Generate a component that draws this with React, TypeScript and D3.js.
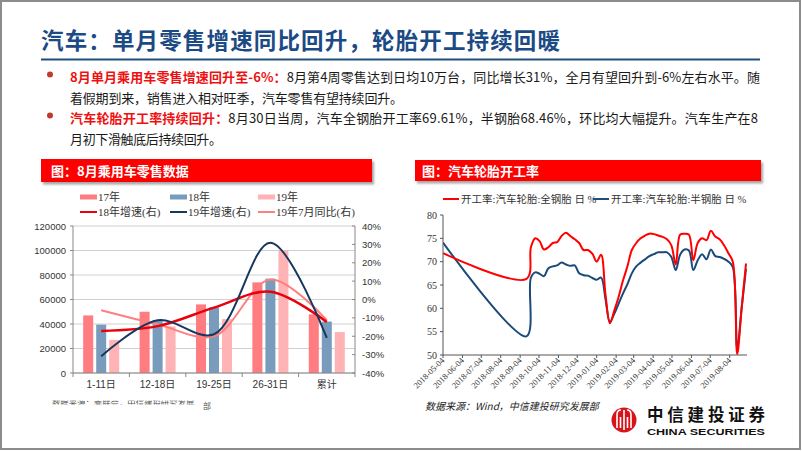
import React from 'react';
import * as d3 from 'd3';

// ---------- data: left chart (8月乘用车零售数据) ----------
const categories = ['1-11日', '12-18日', '19-25日', '26-31日', '累计'];
const seriesNames = ['17年', '18年', '19年'];
const sales17 = [47000, 50000, 56000, 74000, 47900];
const sales18 = [39500, 43000, 53500, 77000, 42000];
const sales19 = [27000, 38000, 44000, 100000, 33500];
const growth18 = [-17.1, -14.5, -4.4, 4.2, -12.2];
const growth19 = [-30.9, -11.3, -18.9, 30.9, -20.9];
const yoyJul19 = [-5.8, -13.5, -20.0, 10.9, -11.3];
const leftTicks = [0, 20000, 40000, 60000, 80000, 100000, 120000];
const rightTicks = [-40, -30, -20, -10, 0, 10, 20, 30, 40];

// ---------- data: right chart (汽车轮胎开工率) ----------
const tireDates = [
  '2018-05-04', '2018-09-14', '2018-09-21', '2018-09-28', '2018-10-05', '2018-10-12', '2018-10-19',
  '2018-10-26', '2018-11-02', '2018-11-09', '2018-11-16', '2018-11-23', '2018-11-30', '2018-12-07',
  '2018-12-14', '2018-12-21', '2018-12-28', '2019-01-04', '2019-01-11', '2019-01-18', '2019-01-25',
  '2019-02-01', '2019-02-08', '2019-02-15', '2019-02-22', '2019-03-01', '2019-03-08', '2019-03-15',
  '2019-03-22', '2019-03-29', '2019-04-05', '2019-04-12', '2019-04-19', '2019-04-26', '2019-05-03',
  '2019-05-10', '2019-05-17', '2019-05-24', '2019-05-31', '2019-06-07', '2019-06-14', '2019-06-21',
  '2019-06-28', '2019-07-05', '2019-07-12', '2019-07-19', '2019-07-26', '2019-08-02', '2019-08-09',
  '2019-08-16', '2019-08-23', '2019-08-30',
];
const fullSteel = [
  71.8, 66.3, 73.0, 75.0, 74.4, 72.6, 73.1,
  74.0, 74.2, 75.5, 76.2, 75.5, 74.8, 74.0,
  72.5, 72.5, 71.7, 70.0, 71.5, 63.0, 56.8,
  59.5, 62.5, 66.0, 69.0, 72.5, 74.0, 75.0,
  75.6, 76.0, 75.9, 75.6, 75.3, 74.8, 73.5,
  69.4, 75.8, 76.0, 75.8, 70.3, 74.0, 75.0,
  74.6, 76.6, 75.4, 74.8, 73.5, 71.8, 70.0,
  50.2, 60.0, 69.61,
];
const semiSteel = [
  74.1, 54.0, 66.5, 67.7, 67.4, 66.9, 68.6,
  69.0, 69.2, 69.8, 69.4, 69.1, 69.2, 67.5,
  67.1, 67.0, 66.5, 66.1, 66.6, 62.0, 57.1,
  58.8, 61.0, 63.2, 65.2, 67.5, 69.0, 69.8,
  70.5, 71.2, 71.6, 72.0, 72.0, 72.0, 71.0,
  68.2, 71.5, 72.6, 72.4, 68.2, 70.3, 71.6,
  70.5, 72.6, 71.2, 71.0, 70.6, 70.0, 68.8,
  51.4, 60.0, 68.46,
];
const tireYTicks = [50, 55, 60, 65, 70, 75, 80];
const tireXTicks = [
  '2018-05-04', '2018-06-04', '2018-07-04', '2018-08-04', '2018-09-04', '2018-10-04', '2018-11-04',
  '2018-12-04', '2019-01-04', '2019-02-04', '2019-03-04', '2019-04-04', '2019-05-04', '2019-06-04',
  '2019-07-04', '2019-08-04',
];

const SANS = '"Liberation Sans", Arial, "Noto Sans CJK SC", sans-serif';
const SERIF = '"Liberation Serif", "Times New Roman", "Noto Sans CJK SC", serif';
const CJK = '"Noto Sans CJK SC", sans-serif';

export default function App() {
  // ---- left chart scales ----
  const xL = d3.scaleBand<string>().domain(categories).range([73, 355]);
  const xSub = d3
    .scaleBand<string>()
    .domain(seriesNames)
    .range([0, xL.bandwidth()])
    .paddingInner(0.23)
    .paddingOuter(0.784);
  const yL = d3.scaleLinear().domain([0, 120000]).range([373, 226]);
  const yR = d3.scaleLinear().domain([-40, 40]).range([373, 226]);
  const barColors = ['#FF7C80', '#7A9CBC', '#FFB3B5'];
  const barData = [sales17, sales18, sales19];
  const lineL = d3
    .line<number>()
    .x((_, i) => (xL(categories[i]) as number) + xL.bandwidth() / 2)
    .y((d) => yR(d))
    .curve(d3.curveCatmullRom.alpha(0.5));

  // ---- right chart scales ----
  const parse = d3.timeParse('%Y-%m-%d');
  const dates = tireDates.map((s) => parse(s) as Date);
  const xT = d3
    .scaleTime()
    .domain([parse('2018-05-04') as Date, parse('2019-08-30') as Date])
    .range([443, 746]);
  const yT = d3.scaleLinear().domain([50, 80]).range([355, 215]);
  const lineT = d3
    .line<number>()
    .x((_, i) => xT(dates[i]))
    .y((d) => yT(d))
    .curve(d3.curveCatmullRom.alpha(0.5));

  const legendL = [
    { label: '17年', color: barColors[0], type: 'rect', col: 0, row: 0 },
    { label: '18年', color: barColors[1], type: 'rect', col: 1, row: 0 },
    { label: '19年', color: barColors[2], type: 'rect', col: 2, row: 0 },
    { label: '18年增速(右)', color: '#E8000B', type: 'line', col: 0, row: 1 },
    { label: '19年增速(右)', color: '#17375E', type: 'line', col: 1, row: 1 },
    { label: '19年7月同比(右)', color: '#FF7F7F', type: 'line', col: 2, row: 1 },
  ];
  const legendColX = [80, 170, 258];
  const legendRowY = [197, 212];

  return (
    <svg
      width={802}
      height={451}
      style={{ position: 'absolute', left: 0, top: 0, background: '#fff' }}
    >
      <defs>
        <filter id="shadow" x="-5%" y="-30%" width="110%" height="180%">
          <feDropShadow dx="2" dy="2.5" stdDeviation="1.2" floodColor="#000" floodOpacity="0.35" />
        </filter>
        <clipPath id="clipT">
          <rect x={443} y={213} width={306} height={142} />
        </clipPath>
        <clipPath id="clipSrc">
          <rect x={40} y={400.5} width={158} height={4} />
        </clipPath>
      </defs>
      <rect x={0} y={0} width={802} height={451} fill="#fff" />
      <rect x={1} y={1} width={799} height={448} fill="none" stroke="#8c8c8c" strokeWidth={2} />

      {/* title */}
      <text
        x={41}
        y={49}
        fontFamily={CJK}
        fontWeight={700}
        fontSize={22.5}
        fill="#1B4A84"
        textLength={519}
        lengthAdjust="spacing"
      >
        汽车：单月零售增速同比回升，轮胎开工持续回暖
      </text>
      <line x1={41} x2={760} y1={59.5} y2={59.5} stroke="#1F4E79" strokeWidth={2} />

      {/* bullets */}
      <circle cx={50} cy={74.5} r={3} fill="#C0392B" />
      <circle cx={50} cy={115.5} r={3} fill="#C0392B" />
      <g fontFamily={CJK} fontSize={13} fill="#1a1a1a">
        <text x={70} y={82} textLength={690} lengthAdjust="spacing">
          <tspan fill="#EE1111" fontWeight={700}>8月单月乘用车零售增速回升至-6%：</tspan>
          <tspan>8月第4周零售达到日均10万台，同比增长31%，全月有望回升到-6%左右水平。随</tspan>
        </text>
        <text x={70} y={102.5} textLength={333} lengthAdjust="spacing">
          着假期到来，销售进入相对旺季，汽车零售有望持续回升。
        </text>
        <text x={70} y={123} textLength={688} lengthAdjust="spacing">
          <tspan fill="#EE1111" fontWeight={700}>汽车轮胎开工率持续回升：</tspan>
          <tspan>8月30日当周，汽车全钢胎开工率69.61%，半钢胎68.46%，环比均大幅提升。汽车生产在8</tspan>
        </text>
        <text x={70} y={143.5} textLength={152} lengthAdjust="spacing">
          月初下滑触底后持续回升。
        </text>
      </g>

      {/* header boxes */}
      <rect x={41} y={159} width={331} height={23} fill="#FF0000" filter="url(#shadow)" />
      <text x={51} y={175.5} fontFamily={CJK} fontWeight={700} fontSize={13} fill="#fff">
        图：8月乘用车零售数据
      </text>
      <rect x={415} y={160} width={346} height={21} fill="#FF0000" filter="url(#shadow)" />
      <text x={422} y={175.5} fontFamily={CJK} fontWeight={700} fontSize={13} fill="#fff">
        图：汽车轮胎开工率
      </text>

      {/* ---------- left chart ---------- */}
      <g fontFamily={SERIF} fontSize={11} fill="#333">
        {legendL.map((l) => {
          const x = legendColX[l.col];
          const y = legendRowY[l.row];
          return (
            <g key={l.label}>
              {l.type === 'rect' ? (
                <rect x={x} y={y - 2.5} width={17} height={5} fill={l.color} />
              ) : (
                <line x1={x} x2={x + 17} y1={y} y2={y} stroke={l.color} strokeWidth={2} />
              )}
              <text x={x + 18} y={y + 4}>
                {l.label}
              </text>
            </g>
          );
        })}
      </g>

      {/* gridlines */}
      {leftTicks.map((t) => (
        <line key={t} x1={73} x2={355} y1={yL(t)} y2={yL(t)} stroke="#D0D0D0" strokeWidth={1} />
      ))}
      {/* bars */}
      {barData.map((vals, si) =>
        vals.map((v, ci) => (
          <rect
            key={`${si}-${ci}`}
            x={(xL(categories[ci]) as number) + (xSub(seriesNames[si]) as number)}
            y={yL(v)}
            width={xSub.bandwidth()}
            height={yL(0) - yL(v)}
            fill={barColors[si]}
          />
        ))
      )}
      {/* lines */}
      <path d={lineL(yoyJul19) || ''} fill="none" stroke="#FF7F7F" strokeWidth={2} />
      <path d={lineL(growth18) || ''} fill="none" stroke="#E8000B" strokeWidth={2.5} />
      <path d={lineL(growth19) || ''} fill="none" stroke="#17375E" strokeWidth={2} />

      {/* axes */}
      <line x1={73} x2={73} y1={226} y2={373} stroke="#888" />
      <line x1={355} x2={355} y1={226} y2={373} stroke="#888" />
      <line x1={73} x2={355} y1={373} y2={373} stroke="#888" />
      <g fontFamily={SANS} fontSize={9.5} fill="#333">
        {leftTicks.map((t) => (
          <g key={t}>
            <line x1={70} x2={73} y1={yL(t)} y2={yL(t)} stroke="#888" />
            <text x={66} y={yL(t) + 3.5} textAnchor="end">
              {t}
            </text>
          </g>
        ))}
        {rightTicks.map((t) => (
          <g key={t}>
            <line x1={352} x2={355} y1={yR(t)} y2={yR(t)} stroke="#888" />
            <text x={362} y={yR(t) + 3.5} textAnchor="start">
              {`${t}%`}
            </text>
          </g>
        ))}
        {categories.map((c) => (
          <g key={c}>
            <line
              x1={xL(c) as number}
              x2={xL(c) as number}
              y1={373}
              y2={377}
              stroke="#888"
            />
            <text
              x={(xL(c) as number) + xL.bandwidth() / 2}
              y={388}
              textAnchor="middle"
              fontSize={10}
            >
              {c}
            </text>
          </g>
        ))}
        <line x1={355} x2={355} y1={373} y2={377} stroke="#888" />
      </g>
      {/* left source (partly hidden in original) */}
      <text
        x={52}
        y={405.5}
        fontFamily={CJK}
        fontSize={8.4}
        fill="#555"
        clipPath="url(#clipSrc)"
      >
        数据来源：乘联会，中信建投研究发展
      </text>
      <text x={203} y={409} fontFamily={CJK} fontSize={8} fill="#555">
        部
      </text>

      {/* ---------- right chart ---------- */}
      <g fontFamily={SERIF} fontSize={10.5} fill="#333">
        <line x1={443} x2={459} y1={199} y2={199} stroke="#FF0000" strokeWidth={2} />
        <text x={461} y={203}>开工率:汽车轮胎:全钢胎 日 %</text>
        <line x1={593} x2={609} y1={199} y2={199} stroke="#1F4E79" strokeWidth={2} />
        <text x={611} y={203}>开工率:汽车轮胎:半钢胎 日 %</text>
      </g>
      <g clipPath="url(#clipT)">
        <path d={lineT(semiSteel) || ''} fill="none" stroke="#1A4A7A" strokeWidth={2} />
        <path d={lineT(fullSteel) || ''} fill="none" stroke="#FF0000" strokeWidth={2} />
      </g>
      <line x1={443} x2={443} y1={215} y2={355} stroke="#555" />
      <line x1={443} x2={747} y1={355} y2={355} stroke="#555" />
      <g fontFamily={SERIF} fontSize={10} fill="#333">
        {tireYTicks.map((t) => (
          <g key={t}>
            <line x1={440} x2={443} y1={yT(t)} y2={yT(t)} stroke="#555" />
            <text x={437} y={yT(t) + 3.5} textAnchor="end">
              {t}
            </text>
          </g>
        ))}
      </g>
      <g fontFamily={SERIF} fontSize={8.5} fill="#333">
        {tireXTicks.map((s) => {
          const x = xT(parse(s) as Date);
          return (
            <g key={s}>
              <line x1={x} x2={x} y1={355} y2={358} stroke="#555" />
              <text transform={`translate(${x + 2},${361}) rotate(-45)`} textAnchor="end">
                {s}
              </text>
            </g>
          );
        })}
      </g>
      <text x={425} y={410} fontFamily={CJK} fontSize={10} fontStyle="italic" fill="#222">
        数据来源：Wind，中信建投研究发展部
      </text>

      {/* logo */}
      <g>
        <circle cx={624} cy={420} r={12.5} fill="#D7141A" />
        <path
          d="M617,428 L617,415 Q617,410 621,410 M631,428 L631,415 Q631,410 627,410 M624,430 L624,410 M620.5,428 L620.5,417 M627.5,428 L627.5,417"
          fill="none"
          stroke="#fff"
          strokeWidth={1.6}
        />
        <text
          x={647}
          y={421}
          fontFamily={CJK}
          fontWeight={700}
          fontSize={16.5}
          fill="#111"
          textLength={118}
          lengthAdjust="spacing"
        >
          中信建投证券
        </text>
        <text
          x={647}
          y={435}
          fontFamily={SANS}
          fontWeight={700}
          fontSize={9.5}
          fill="#111"
          textLength={118}
          lengthAdjust="spacingAndGlyphs"
        >
          CHINA SECURITIES
        </text>
      </g>
    </svg>
  );
}
